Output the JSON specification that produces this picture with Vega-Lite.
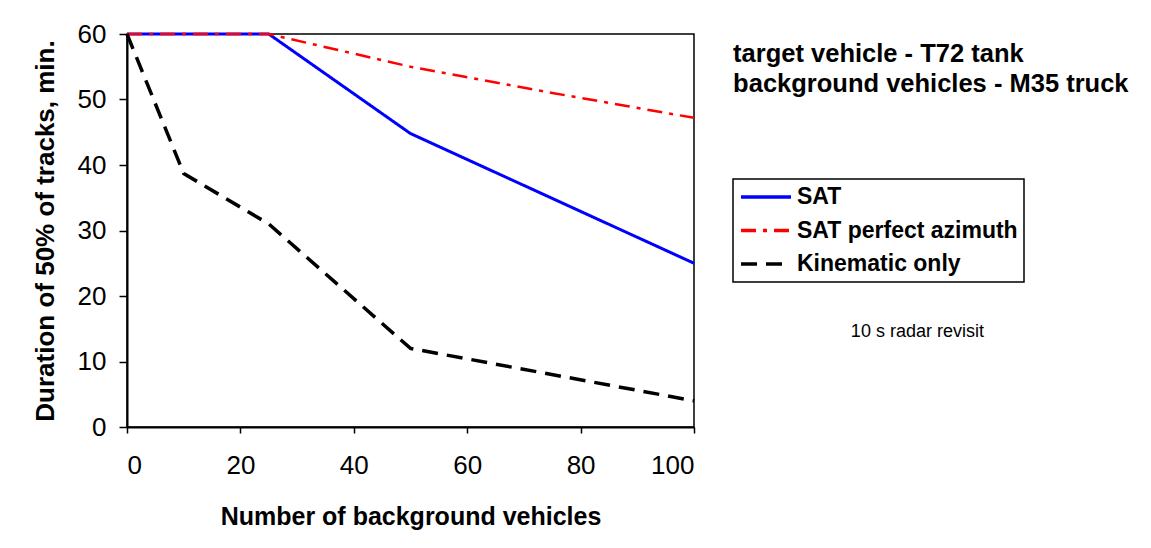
{
  "$schema": "https://vega.github.io/schema/vega-lite/v6.json",
  "width": 567,
  "height": 393,
  "autosize": {"type": "none"},
  "padding": {"left": 127, "top": 34, "right": 457, "bottom": 121},
  "background": "white",
  "config": {
    "font": "Liberation Sans",
    "view": {"stroke": "black", "strokeWidth": 1.5},
    "axis": {
      "grid": false,
      "domainColor": "black",
      "domainWidth": 2,
      "tickColor": "black",
      "tickWidth": 1.5,
      "labelColor": "black",
      "labelFont": "Liberation Sans",
      "labelFontSize": 26,
      "titleColor": "black",
      "titleFont": "Liberation Sans",
      "titleFontWeight": "bold"
    },
    "legend": {
      "orient": "none",
      "legendX": 606,
      "legendY": 145,
      "strokeColor": "black",
      "strokeWidth": 1.5,
      "padding": 6,
      "labelFont": "Liberation Sans",
      "labelFontSize": 23,
      "labelFontWeight": "bold",
      "labelColor": "black",
      "labelOffset": 34,
      "symbolType": "M-1,0H4",
      "symbolSize": 400,
      "symbolStrokeWidth": 3.5,
      "rowPadding": 9.5,
      "labelLimit": 400
    }
  },
  "datasets": {
    "lines": [
      {"series": "SAT", "x": 0, "y": 60},
      {"series": "SAT", "x": 10, "y": 60},
      {"series": "SAT", "x": 25, "y": 60},
      {"series": "SAT", "x": 50, "y": 44.8},
      {"series": "SAT", "x": 100, "y": 25},
      {"series": "SAT perfect azimuth", "x": 0, "y": 60},
      {"series": "SAT perfect azimuth", "x": 10, "y": 60},
      {"series": "SAT perfect azimuth", "x": 25, "y": 60},
      {"series": "SAT perfect azimuth", "x": 50, "y": 55},
      {"series": "SAT perfect azimuth", "x": 75, "y": 51},
      {"series": "SAT perfect azimuth", "x": 100, "y": 47.2},
      {"series": "Kinematic only", "x": 0, "y": 60},
      {"series": "Kinematic only", "x": 10, "y": 38.7},
      {"series": "Kinematic only", "x": 25, "y": 31},
      {"series": "Kinematic only", "x": 50, "y": 12},
      {"series": "Kinematic only", "x": 100, "y": 4}
    ],
    "notes": [
      {"x": 106.9, "y": 55.8, "text": "target vehicle - T72 tank"},
      {"x": 106.9, "y": 51.2, "text": "background vehicles - M35 truck"}
    ],
    "notes2": [
      {"x": 139.4, "y": 13.8, "text": "10 s radar revisit"}
    ]
  },
  "encoding": {
    "x": {
      "field": "x", "type": "quantitative",
      "scale": {"domain": [0, 100], "nice": false, "zero": false},
      "axis": {"values": [0, 20, 40, 60, 80, 100], "tickSize": 6, "labelPadding": 19, "titlePadding": 26, "titleFontSize": 25, "title": "Number of background vehicles"}
    },
    "y": {
      "field": "y", "type": "quantitative",
      "scale": {"domain": [0, 60], "nice": false},
      "axis": {"values": [0, 10, 20, 30, 40, 50, 60], "tickSize": 8, "labelPadding": 13, "titlePadding": 19, "titleFontSize": 26, "title": "Duration of 50% of tracks, min."}
    }
  },
  "layer": [
    {
      "data": {"name": "lines"},
      "transform": [{"filter": "datum.series == 'SAT'"}],
      "mark": {"type": "line", "clip": false, "strokeWidth": 3},
      "encoding": {
        "color": {
          "field": "series", "type": "nominal",
          "scale": {"domain": ["SAT", "SAT perfect azimuth", "Kinematic only"], "range": ["#0000ff", "#ff0000", "#000000"]},
          "legend": {"title": null}
        },
        "strokeDash": {
          "field": "series", "type": "nominal",
          "scale": {"domain": ["SAT", "SAT perfect azimuth", "Kinematic only"], "range": [[1, 0], [15, 7, 4, 7], [16, 9]]},
          "legend": {"title": null}
        }
      }
    },
    {
      "data": {"name": "lines"},
      "transform": [{"filter": "datum.series == 'SAT perfect azimuth'"}],
      "mark": {"type": "line", "clip": false, "strokeWidth": 2.5},
      "encoding": {
        "color": {"field": "series", "type": "nominal", "legend": {"title": null}},
        "strokeDash": {"field": "series", "type": "nominal", "legend": {"title": null}}
      }
    },
    {
      "data": {"name": "lines"},
      "transform": [{"filter": "datum.series == 'Kinematic only'"}],
      "mark": {"type": "line", "clip": false, "strokeWidth": 3.5},
      "encoding": {
        "color": {"field": "series", "type": "nominal", "legend": {"title": null}},
        "strokeDash": {"field": "series", "type": "nominal", "legend": {"title": null}}
      }
    },
    {
      "data": {"name": "notes"},
      "mark": {"type": "text", "align": "left", "baseline": "alphabetic", "fontSize": 25.5, "fontWeight": "bold", "font": "Liberation Sans", "color": "black"},
      "encoding": {
        "text": {"field": "text"}
      }
    },
    {
      "data": {"name": "notes2"},
      "mark": {"type": "text", "align": "center", "baseline": "alphabetic", "fontSize": 18, "font": "Liberation Sans", "color": "black"},
      "encoding": {
        "text": {"field": "text"}
      }
    }
  ]
}
